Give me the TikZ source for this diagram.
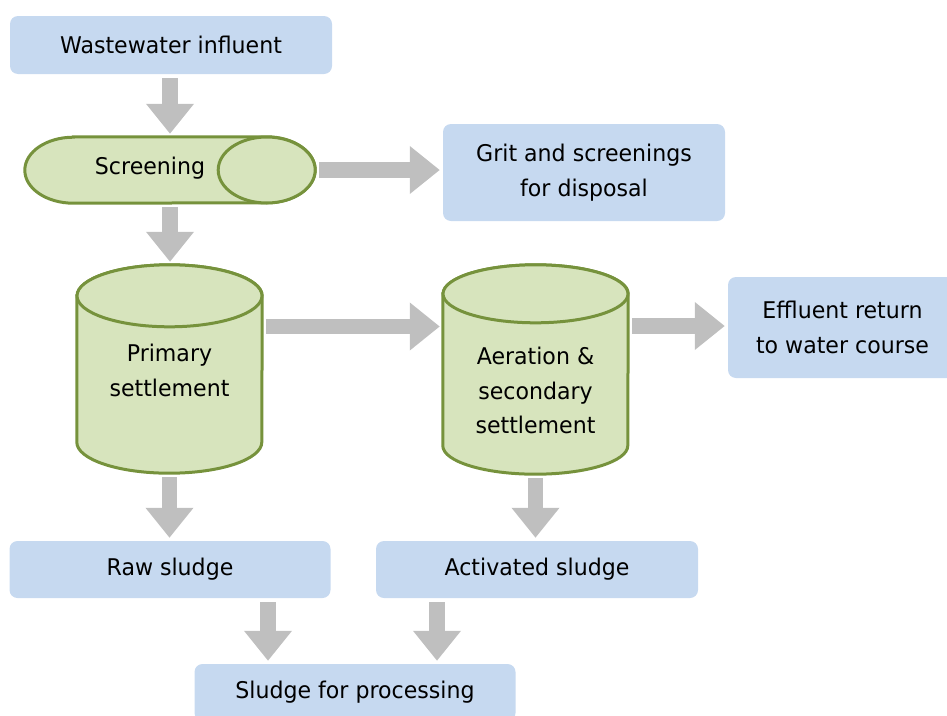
\documentclass[tikz,border=0pt]{standalone}
\usepackage{fontspec}
\setmainfont{DejaVu Sans}[FakeStretch=0.96]
\usetikzlibrary{arrows.meta}
\definecolor{boxblue}{RGB}{198,217,240}
\definecolor{tankfill}{RGB}{215,228,189}
\definecolor{tankdraw}{RGB}{118,146,60}
\definecolor{flowgray}{RGB}{191,191,191}

\begin{document}
\begin{tikzpicture}[x=1pt,y=1pt,
  every node/.style={font=\fontsize{23}{34.5}\selectfont, inner sep=0pt},
  stage/.style={rectangle, rounded corners=8pt, fill=boxblue, align=center},
  tank/.style={fill=tankfill, draw=tankdraw, line width=3pt},
  flow/.style={draw=flowgray, line width=15.5pt, -{Triangle[width=46pt,length=30pt]},
               shorten <=4pt, shorten >=3pt}]
\useasboundingbox (0,0) rectangle (947,-715);

% blue stages
\node[stage, minimum width=322pt, minimum height=58pt] (infl) at (171,-45)
      {Wastewater influent};
\node[stage, minimum width=282pt, minimum height=97pt] (grit) at (584,-172.5)
      {Grit and screenings\\for disposal};
\node[stage, minimum width=229pt, minimum height=101pt] (eff) at (842.5,-327.5)
      {Effluent return\\to water course};
\node[stage, minimum width=321pt, minimum height=57pt] (raw) at (170,-569.5)
      {Raw sludge};
\node[stage, minimum width=322pt, minimum height=57pt] (act) at (537,-569.5)
      {Activated sludge};
\node[stage, minimum width=321pt, minimum height=57pt] (proc) at (355,-692.5)
      {Sludge for processing};

% green tanks
\node[minimum width=290pt, minimum height=66pt] (scr) at (170,-170) {};
\draw[tank] ([xshift=48.5pt]scr.north west) -- ([xshift=-48.5pt]scr.north east)
      arc[start angle=90, end angle=-90, x radius=48.5, y radius=33]
      -- ([xshift=48.5pt]scr.south west)
      arc[start angle=270, end angle=90, x radius=48.5, y radius=33] -- cycle;
\draw[tank] ([xshift=-48.5pt]scr.east) ellipse[x radius=48.5, y radius=33];
\node at ([xshift=-20pt,yshift=1.5pt]scr.center) {Screening};

\node[minimum width=185pt, minimum height=208pt] (prim) at (169.5,-369) {};
\draw[tank] ([yshift=-31pt]prim.north west) -- ([yshift=31pt]prim.south west)
      arc[start angle=180, end angle=360, x radius=92.5, y radius=31]
      -- ([yshift=-31pt]prim.north east)
      arc[start angle=0, end angle=180, x radius=92.5, y radius=31] -- cycle;
\draw[tank] ([yshift=-31pt]prim.north) ellipse[x radius=92.5, y radius=31];
\node[align=center] at ([yshift=-1.5pt]prim.center) {Primary\\settlement};

\node[minimum width=185pt, minimum height=209pt] (aer) at (535.5,-369.5) {};
\draw[tank] ([yshift=-29pt]aer.north west) -- ([yshift=28.5pt]aer.south west)
      arc[start angle=180, end angle=360, x radius=92.5, y radius=28.5]
      -- ([yshift=-29pt]aer.north east)
      arc[start angle=0, end angle=180, x radius=92.5, y radius=29] -- cycle;
\draw[tank] ([yshift=-29pt]aer.north) ellipse[x radius=92.5, y radius=29];
\node[align=center] at ([yshift=-21pt]aer.center) {Aeration \&\\secondary\\settlement};

% flows
\draw[flow] (infl.south -| scr.north) -- (scr.north);
\draw[flow] (scr.east) -- (scr.east -| grit.west);
\draw[flow] (scr.south) -- (scr.south |- prim.north);
\draw[flow] ([yshift=42.5pt]prim.east) -- ([yshift=42.5pt]prim.east -| aer.west);
\draw[flow] ([yshift=43.5pt]aer.east) -- ([yshift=43.5pt]aer.east -| eff.west);
\draw[flow] (prim.south) -- (prim.south |- raw.north);
\draw[flow] (aer.south) -- (aer.south |- act.north);
\draw[flow] ([xshift=98pt]raw.south) -- ([xshift=98pt]raw.south |- proc.north);
\draw[flow] ([xshift=-100pt]act.south) -- ([xshift=-100pt]act.south |- proc.north);
\end{tikzpicture}
\end{document}
